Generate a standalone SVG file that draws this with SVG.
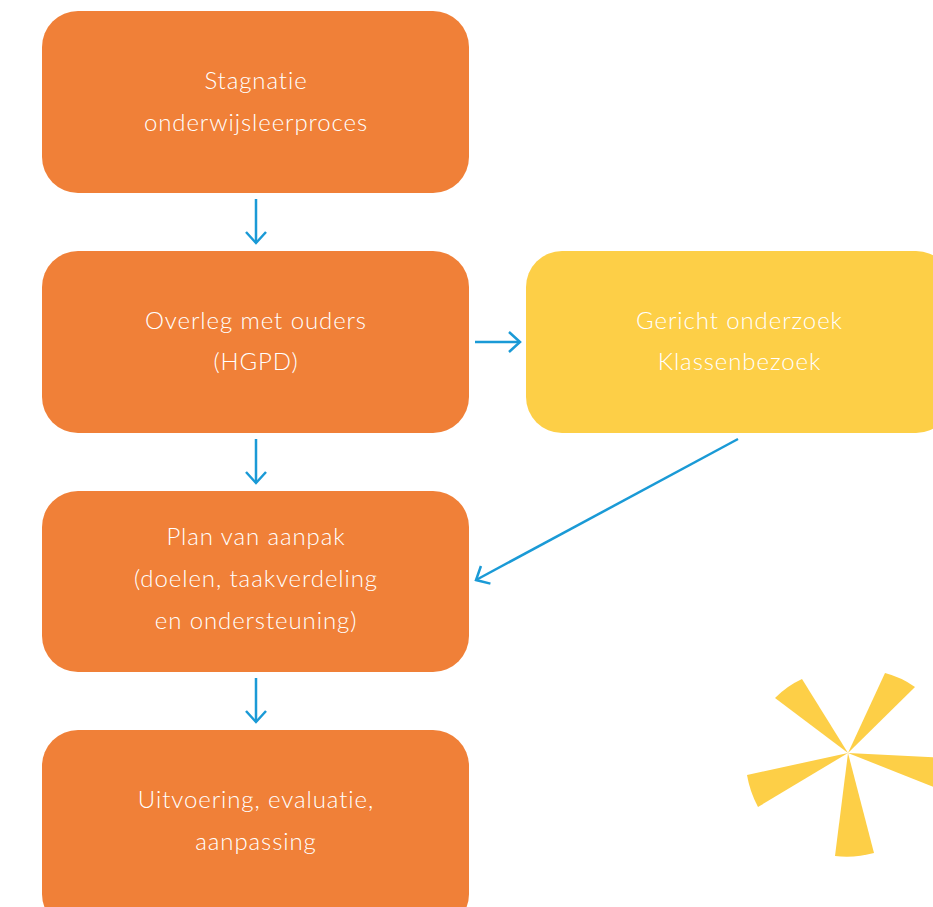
<svg xmlns="http://www.w3.org/2000/svg" width="933" height="907" viewBox="0 0 933 907">
<style>
.box-o{fill:#F08038}
.box-y{fill:#FDCF47}
.lbl{font-family:Lato,"Open Sans","Liberation Sans",sans-serif;font-weight:300;font-size:24px;letter-spacing:0.9px;font-variant-ligatures:none;fill:#ffffff;text-anchor:middle}
.conn{stroke:#1A9AD6;stroke-width:2.5;fill:none}
.star{fill:#FDCF47}
</style>
<defs>
<marker id="arr" markerUnits="userSpaceOnUse" viewBox="-14 -12 16 24" markerWidth="16" markerHeight="24" refX="0" refY="0" orient="auto">
<path d="M-11,-10 L0,0 L-11,10" fill="none" stroke="#1A9AD6" stroke-width="2.5"/>
</marker>
</defs>
<rect width="933" height="907" fill="#ffffff"/>
<g id="node-stagnatie">
<rect class="box-o" x="42" y="11" width="427" height="182" rx="36"/>
<text class="lbl" x="256" y="89">Stagnatie</text>
<text class="lbl" x="256" y="131">onderwijsleerproces</text>
</g>
<g id="node-overleg">
<rect class="box-o" x="42" y="251" width="427" height="182" rx="36"/>
<text class="lbl" x="256" y="329">Overleg met ouders</text>
<text class="lbl" x="256" y="370">(HGPD)</text>
</g>
<g id="node-onderzoek">
<rect class="box-y" x="526" y="251" width="426" height="182" rx="36"/>
<text class="lbl" x="739.5" y="329">Gericht onderzoek</text>
<text class="lbl" x="739.5" y="370">Klassenbezoek</text>
</g>
<g id="node-plan">
<rect class="box-o" x="42" y="491" width="427" height="181" rx="36"/>
<text class="lbl" x="256" y="545">Plan van aanpak</text>
<text class="lbl" x="256" y="587">(doelen, taakverdeling</text>
<text class="lbl" x="256" y="629">en ondersteuning)</text>
</g>
<g id="node-uitvoering">
<rect class="box-o" x="42" y="730" width="427" height="200" rx="36"/>
<text class="lbl" x="256" y="808">Uitvoering, evaluatie,</text>
<text class="lbl" x="256" y="850">aanpassing</text>
</g>
<g id="connectors">
<line class="conn" x1="256" y1="199" x2="256" y2="243" marker-end="url(#arr)"/>
<line class="conn" x1="256" y1="439" x2="256" y2="483" marker-end="url(#arr)"/>
<line class="conn" x1="256" y1="678" x2="256" y2="722" marker-end="url(#arr)"/>
<line class="conn" x1="475" y1="342" x2="520" y2="342" marker-end="url(#arr)"/>
<line class="conn" x1="738" y1="439" x2="476" y2="580" marker-end="url(#arr)"/>
</g>
<g id="star-decoration">
<path class="star" d="M848,753 L775,698 A91,91 0 0 1 802,679 Z"/>
<path class="star" d="M848,753 L885,673 A90,90 0 0 1 915,687 Z"/>
<path class="star" d="M848,753 L948,758 A100,100 0 0 1 941,790 Z"/>
<path class="star" d="M848,753 L874,853 A104,104 0 0 1 835,856 Z"/>
<path class="star" d="M848,753 L758,807 A104,104 0 0 1 747,775 Z"/>
</g>
</svg>
